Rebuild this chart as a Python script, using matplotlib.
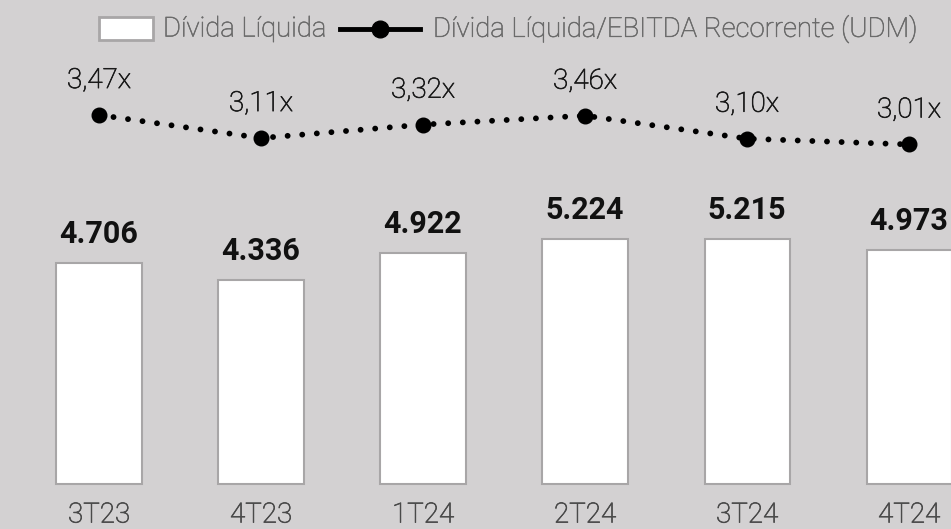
import matplotlib
matplotlib.use("Agg")
import matplotlib.pyplot as plt
import matplotlib.patheffects as pe
from matplotlib.patches import Rectangle
from matplotlib.lines import Line2D

categories = ["3T23", "4T23", "1T24", "2T24", "3T24", "4T24"]
divida = [4706, 4336, 4922, 5224, 5215, 4973]
divida_labels = ["4.706", "4.336", "4.922", "5.224", "5.215", "4.973"]
ratio = [3.47, 3.11, 3.32, 3.46, 3.10, 3.01]
ratio_labels = ["3,47x", "3,11x", "3,32x", "3,46x", "3,10x", "3,01x"]

BG = "#d3d1d2"
plt.rcParams['font.family'] = ['Roboto', 'DejaVu Sans']

def thick(c, w=0.5):
    return [pe.withStroke(linewidth=w, foreground=c)]

W, H = 951, 529
fig = plt.figure(figsize=(W / 100, H / 100), dpi=100, facecolor=BG)
ax = fig.add_axes([0, 0, 1, 1])
ax.set_facecolor(BG)
x = list(range(len(categories)))

ax.bar(x, divida, width=0.525, color="white", edgecolor="#a8a6a7", linewidth=1.5, zorder=2)
ax.set_xlim(-0.611, 5.259)
ax.set_ylim(-958, 10307)
for i, v in enumerate(divida):
    ax.annotate(divida_labels[i], (i, v), xytext=(0, 14.4), textcoords="offset points",
                ha="center", va="baseline", fontsize=22, fontweight="bold", color="#111111")
    ax.text(i, -820, categories[i], ha="center", va="baseline", fontsize=20,
            fontweight="light", color="#4a4a4a", path_effects=thick("#4a4a4a"))
ax.axis("off")

ax2 = ax.twinx()
ax2.set_ylim(-2.999, 5.267)
ax2.plot(x, ratio, color="black", linestyle=(0, (0.01, 2.5)), linewidth=4.2,
         dash_capstyle="round", zorder=3)
ax2.plot(x, ratio, linestyle="none", marker="o", markersize=10.5, color="black", zorder=4)
for i, r in enumerate(ratio):
    ax2.annotate(ratio_labels[i], (i, r), xytext=(0, 19.4), textcoords="offset points",
                 ha="center", va="baseline", fontsize=20, fontweight="light", color="#1a1a1a",
                 path_effects=thick("#1a1a1a"))
ax2.axis("off")

# legend
fig.add_artist(Rectangle((99 / W, 1 - 40 / H), 54 / W, 23 / H, transform=fig.transFigure,
                         facecolor="white", edgecolor="#a8a6a7", linewidth=2))
fig.text(163 / W, 1 - 29 / H, "Dívida Líquida", ha="left", va="center", fontsize=19.8,
         fontweight="light", color="#6a6a6a", path_effects=thick("#6a6a6a", 0.4))
fig.add_artist(Line2D([340 / W, 420 / W], [1 - 29 / H, 1 - 29 / H], transform=fig.transFigure,
                      color="black", linewidth=3.5))
fig.add_artist(Line2D([380 / W], [1 - 29 / H], transform=fig.transFigure, marker="o",
                      markersize=12, color="black", linestyle="none"))
fig.text(433 / W, 1 - 29 / H, "Dívida Líquida/EBITDA Recorrente (UDM)", ha="left", va="center",
         fontsize=19.8, fontweight="light", color="#6a6a6a", path_effects=thick("#6a6a6a", 0.4))

fig.savefig("out.png", dpi=100, facecolor=BG)
